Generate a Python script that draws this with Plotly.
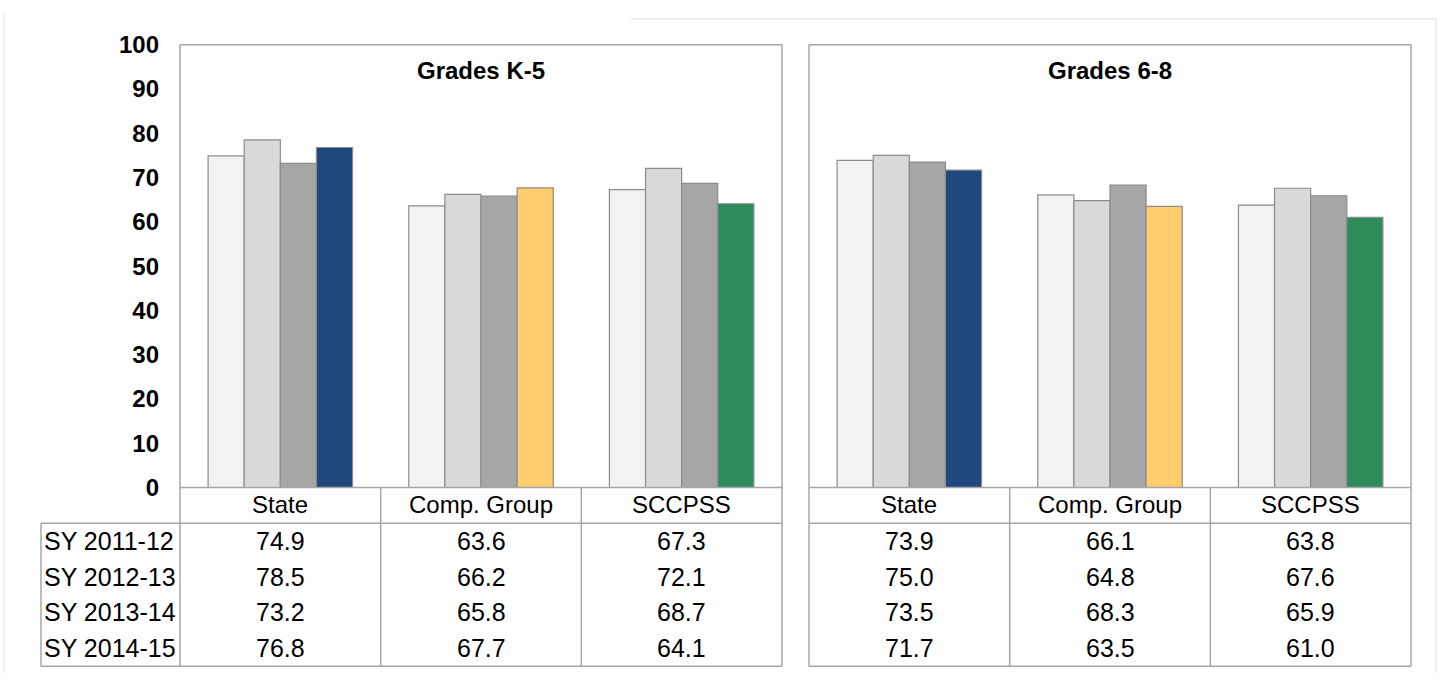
import plotly.graph_objects as go

# ---------------- data ----------------
categories = ["State", "Comp. Group", "SCCPSS"]
years = ["SY 2011-12", "SY 2012-13", "SY 2013-14", "SY 2014-15"]
panel_titles = ["Grades K-5", "Grades 6-8"]

k5_2011 = [74.9, 63.6, 67.3]
k5_2012 = [78.5, 66.2, 72.1]
k5_2013 = [73.2, 65.8, 68.7]
k5_2014 = [76.8, 67.7, 64.1]

g68_2011 = [73.9, 66.1, 63.8]
g68_2012 = [75.0, 64.8, 67.6]
g68_2013 = [73.5, 68.3, 65.9]
g68_2014 = [71.7, 63.5, 61.0]

y_ticks = [0, 10, 20, 30, 40, 50, 60, 70, 80, 90, 100]

# ---------------- styles ----------------
W, H = 1442, 686
FONT = "Liberation Sans, Arial, sans-serif"
year_colors = ["#F2F2F2", "#D9D9D9", "#A6A6A6"]
latest_colors = ["#1F497D", "#FFCD6B", "#2E8B5C"]
bar_line = "#8C8C8C"
frame = "#A6A6A6"


def px(x):
    return x / W


def py(y):
    return 1 - y / H


TOP, ZERO, CATB, TABB, TABL = 32, 493, 530, 679, 41
panels = [(180, 782), (809, 1411)]
row_centers = [549, 586, 623, 660]

fig = go.Figure()

datasets = [
    [k5_2011, k5_2012, k5_2013, k5_2014],
    [g68_2011, g68_2012, g68_2013, g68_2014],
]

for p, series in enumerate(datasets):
    xa = "x" if p == 0 else "x2"
    ya = "y" if p == 0 else "y2"
    for i, vals in enumerate(series):
        colors = [year_colors[i]] * 3 if i < 3 else latest_colors
        fig.add_trace(go.Bar(
            x=categories, y=vals, name=years[i], xaxis=xa, yaxis=ya,
            marker=dict(color=colors, line=dict(color=bar_line, width=1.2)),
            showlegend=False, hoverinfo="x+y",
        ))

ax_common = dict(range=[-0.5, 2.5], showticklabels=False, showgrid=False,
                 zeroline=False, showline=False, ticks="", fixedrange=True,
                 type="category", categoryorder="array", categoryarray=categories)
fig.update_layout(
    width=W, height=H,
    margin=dict(l=0, r=0, t=0, b=0),
    paper_bgcolor="white", plot_bgcolor="white",
    barmode="group", bargap=0.28, bargroupgap=0,
    font=dict(family=FONT, color="#000000"),
    xaxis=dict(domain=[px(panels[0][0]), px(panels[0][1])], anchor="y", **ax_common),
    xaxis2=dict(domain=[px(panels[1][0]), px(panels[1][1])], anchor="y2", **ax_common),
    yaxis=dict(domain=[py(ZERO), py(TOP)], range=[0, 100], tickvals=y_ticks,
               showgrid=False, zeroline=False, showline=False, ticks="",
               ticklabelstandoff=20, fixedrange=True,
               tickfont=dict(family=FONT, size=24, weight="bold", color="#000000"),
               anchor="x"),
    yaxis2=dict(domain=[py(ZERO), py(TOP)], range=[0, 100], showticklabels=False,
                showgrid=False, zeroline=False, showline=False, ticks="",
                fixedrange=True, anchor="x2"),
)

shapes = []
annotations = []


def line(x0, y0, x1, y1, xref="paper", color=frame, width=1.5):
    shapes.append(dict(type="line", xref=xref, yref="paper", x0=x0, y0=y0,
                       x1=x1, y1=y1, line=dict(color=color, width=width)))


# faint outer frame
line(px(4), py(0), px(4), py(H), color="#E3E3E3", width=1)
line(px(631), py(5), px(1436), py(5), color="#DCDCDC", width=1)
line(px(1436), py(5), px(1436), py(H), color="#DCDCDC", width=1)

for p, (x0, x1) in enumerate(panels):
    xref = "x" if p == 0 else "x2"
    # outer box
    line(px(x0), py(TOP), px(x1), py(TOP))
    line(px(x0), py(TOP), px(x0), py(TABB))
    line(px(x1), py(TOP), px(x1), py(TABB))
    # zero line / category row
    line(px(x0), py(ZERO), px(x1), py(ZERO))
    left_tab = TABL if p == 0 else x0
    line(px(left_tab), py(CATB), px(x1), py(CATB))
    line(px(left_tab), py(TABB), px(x1), py(TABB))
    if p == 0:
        line(px(TABL), py(CATB), px(TABL), py(TABB))
    # category dividers
    for d in [0.5, 1.5]:
        line(d, py(ZERO), d, py(TABB), xref=xref)
    # panel title
    annotations.append(dict(text="<b>%s</b>" % panel_titles[p], xref="paper", yref="paper",
                            x=px((x0 + x1) / 2), y=py(59), showarrow=False,
                            font=dict(family=FONT, size=24, color="#000000"),
                            xanchor="center", yanchor="middle"))
    # category labels
    for c in categories:
        annotations.append(dict(text=c, xref=xref, yref="paper", x=c, y=py(511),
                                showarrow=False, xanchor="center", yanchor="middle",
                                font=dict(family=FONT, size=24, color="#000000")))
    # table values
    for r, vals in enumerate(datasets[p]):
        for c, v in zip(categories, vals):
            annotations.append(dict(text="%.1f" % v, xref=xref, yref="paper", x=c,
                                    y=py(row_centers[r]), showarrow=False,
                                    xanchor="center", yanchor="middle",
                                    font=dict(family=FONT, size=25, color="#000000")))

# row labels
for r, yl in enumerate(years):
    annotations.append(dict(text=yl, xref="paper", yref="paper", x=px(42),
                            y=py(row_centers[r]), showarrow=False, xanchor="left",
                            yanchor="middle",
                            font=dict(family=FONT, size=25, color="#000000")))

fig.update_layout(shapes=shapes, annotations=annotations)
fig.write_html(
    "out.html",
    config={"displayModeBar": False},
    post_script=(
        "var gd=document.getElementById('{plot_id}');"
        "gd.style.position='fixed';gd.style.top='0px';gd.style.left='0px';"
        "document.body.style.margin='0';document.body.style.overflow='hidden';"
        "document.documentElement.style.overflow='hidden';"
    ),
)
